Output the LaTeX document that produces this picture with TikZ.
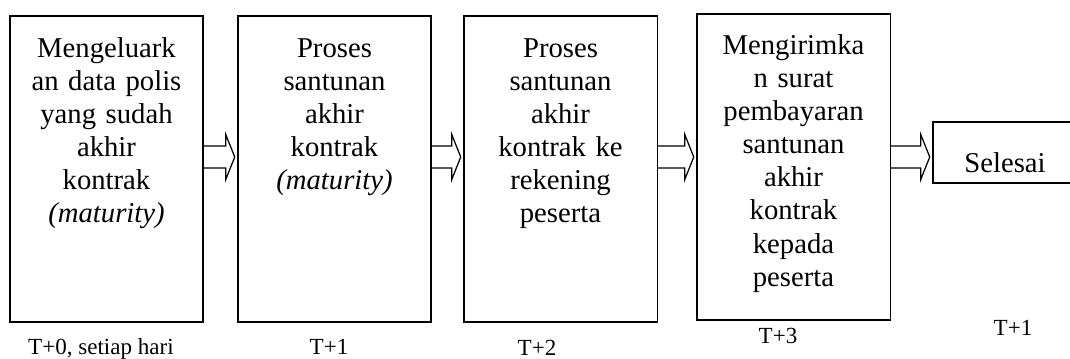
\documentclass[tikz,border=0pt]{standalone}
\usepackage{fontspec}
\setmainfont{Liberation Serif}
\usetikzlibrary{calc}
% block arrow from box #1 to box #2, centred at height #3
\newcommand\blockarrow[3]{%
	\coordinate (#1tail) at (#1.east |- 0,#3);
	\coordinate (#1tip) at ($(#2.west |- 0,#3)+(-2.5,0)$);
	\draw[arrowline] ($(#1tail)+(0,-11)$) -- ($(#1tip)+(-9,-11)$) -- ($(#1tip)+(-9,-22.5)$)
		-- (#1tip) -- ($(#1tip)+(-9,22.5)$) -- ($(#1tip)+(-9,11)$) -- ($(#1tail)+(0,11)$);
}
\tikzset{
	box/.style={draw, line width=0.9pt, inner sep=0pt, minimum width=4.83cm, minimum height=7.65cm},
	boxtext/.style={anchor=base, inner sep=0pt, text width=4.7cm, align=center, font=\fontsize{20.4}{23.6}\selectfont},
	timelabel/.style={anchor=base, inner sep=0pt, font=\fontsize{16.4}{19}\selectfont},
	arrowline/.style={line width=0.9pt, line join=miter}
}
\begin{document}
\begin{tikzpicture}[x=0.025cm, y=-0.025cm]
			%%%%% FRAME %%%%%
			\path[use as bounding box, clip] (0, 0) rectangle (1070, 358);
			
			%%%%% BOXES %%%%%
			\node[box] (b1) at (106.5, 169) {};
			\node[box] (b2) at (334.5, 169) {};
			\node[box] (b3) at (560.5, 169) {};
			\node[box] (b4) at (793.5, 167) {};
			\node[box, minimum width=3.63cm, minimum height=1.52cm] (b5) at (1005.5, 152.5) {};
			
			\node[boxtext] (t1) at (106.5, 57) {Mengeluark\\an data polis\\yang sudah\\akhir\\kontrak\\\textit{(maturity)}};
			\node[boxtext] (t2) at (334.5, 57) {Proses\\santunan\\akhir\\kontrak\\\textit{(maturity)}};
			\node[boxtext] (t3) at (560.5, 57) {Proses\\santunan\\akhir\\kontrak ke\\rekening\\peserta};
			\node[boxtext] (t4) at (793.5, 54) {Mengirimka\\n surat\\pembayaran\\santunan\\akhir\\kontrak\\kepada\\peserta};
			\node[boxtext, text width=3.4cm] (t5) at (1005, 172) {Selesai};
			
			%%%%% ARROWS %%%%%
			\blockarrow{b1}{b2}{157}
			\blockarrow{b2}{b3}{157}
			\blockarrow{b3}{b4}{157}
			\blockarrow{b4}{b5}{157}
			
			%%%%% TIMES %%%%%
			\node[timelabel] (l1) at (101, 354) {T+0, setiap hari};
			\node[timelabel] (l2) at (329, 354) {T+1};
			\node[timelabel] (l3) at (537, 355) {T+2};
			\node[timelabel] (l4) at (778, 343) {T+3};
			\node[timelabel] (l5) at (1013, 335) {T+1};
\end{tikzpicture}
\end{document}
